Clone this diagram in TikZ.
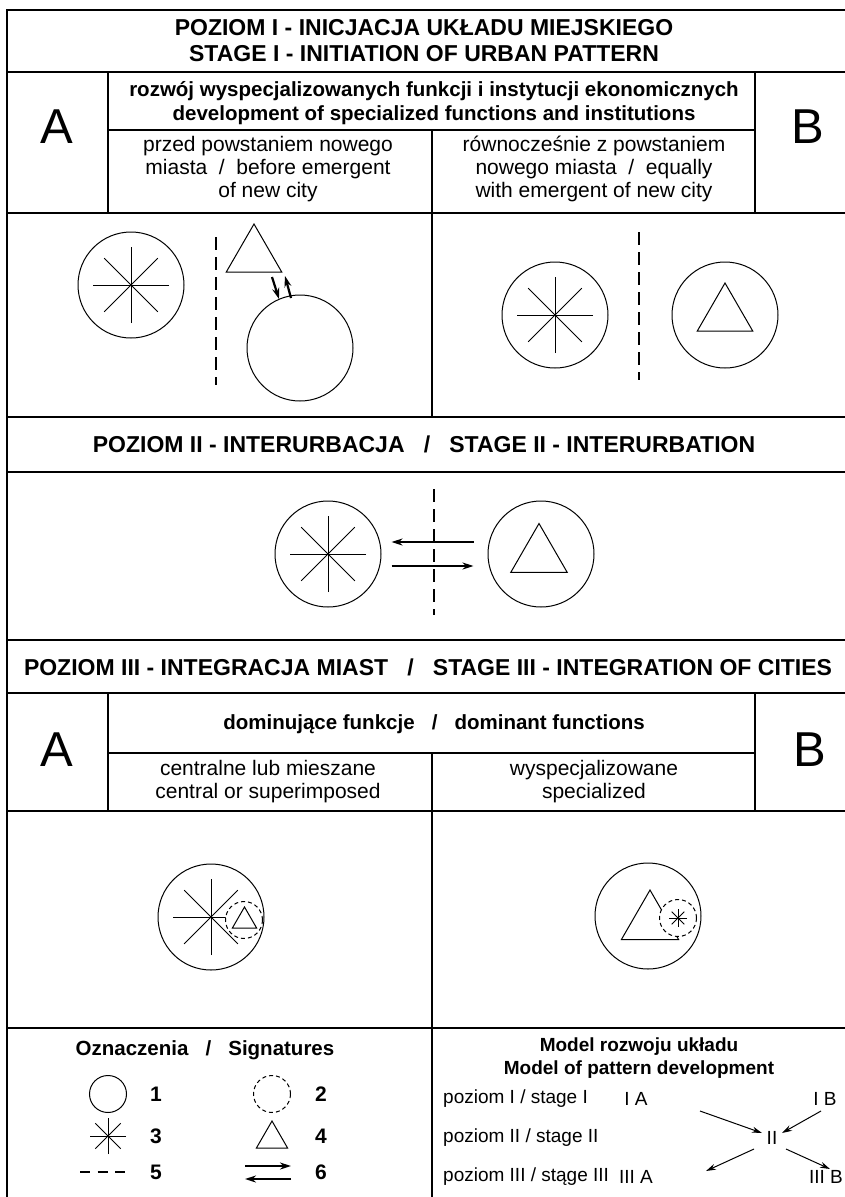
\documentclass[tikz,border=0pt]{standalone}
\usepackage{fontspec}
\setmainfont{Liberation Sans}
\usetikzlibrary{arrows.meta,shapes.geometric,calc}

% eight spokes of a city centre: node, radius
\newcommand{\spokes}[2]{%
  \foreach \ang in {0,45,90,135}
    \draw[spoke] ($(#1)+(\ang:#2)$) -- ($(#1)+(\ang+180:#2)$);%
}

\begin{document}
\begin{tikzpicture}[x=1pt,y=-1pt,
  rule/.style={line width=2.2pt},
  town/.style={draw,circle,line width=1pt,minimum size=106pt,inner sep=0pt},
  satellite/.style={draw,circle,dash pattern=on 4pt off 3pt,line width=1pt,fill=white,inner sep=0pt,minimum size=37pt},
  func/.style={draw,regular polygon,regular polygon sides=3,line width=1pt,inner sep=0pt,minimum size=64pt},
  spoke/.style={line width=0.9pt},
  divide/.style={line width=2.4pt,dash pattern=on 13pt off 7pt},
  flow/.style={line width=2.4pt,-{Stealth[length=11pt,width=7pt]}},
  trend/.style={line width=1pt,-{Stealth[length=10pt,width=6pt]}},
  head/.style={font=\fontsize{23}{26}\selectfont\bfseries,align=center,inner sep=0pt},
  subhead/.style={font=\fontsize{20.5}{23.5}\selectfont\bfseries,align=center,inner sep=0pt},
  txt/.style={font=\fontsize{21}{23}\selectfont,align=center,inner sep=0pt},
  letter/.style={font=\fontsize{49}{49}\selectfont,inner sep=0pt},
  lbl/.style={font=\fontsize{19}{23}\selectfont,inner sep=0pt},
  num/.style={font=\fontsize{21}{23}\selectfont\bfseries,inner sep=0pt},
]
\useasboundingbox (0,0) rectangle (845,1197);

% table
\draw[rule] (7,1200) -- (7,10) -- (850,10);
\foreach \yy in {72,213,417,472,640,693,811,1028}
  \draw[rule] (7,\yy) -- (850,\yy);
\draw[rule] (108,130) -- (755,130) (108,753) -- (755,753);
\draw[rule] (108,72) -- (108,213) (755,72) -- (755,213);
\draw[rule] (108,693) -- (108,811) (755,693) -- (755,811);
\draw[rule] (432,130) -- (432,417) (432,753) -- (432,1200);

% stage I
\node[head] (poz1) at (424,41) {POZIOM I - INICJACJA UKŁADU MIEJSKIEGO\\STAGE I - INITIATION OF URBAN PATTERN};
\node[subhead] (dev) at (434,103) {rozwój wyspecjalizowanych funkcji i instytucji ekonomicznych\\development of specialized functions and institutions};
\node[letter] (A1) at (57,127) {A};
\node[letter] (B1) at (808,127) {B};
\node[txt] (pre) at (268,169) {przed powstaniem nowego\\miasta\ \ /\ \ before emergent\\of new city};
\node[txt] (eq) at (594,169) {równocześnie z powstaniem\\nowego miasta\ \ /\ \ equally\\with emergent of new city};

\node[town] (c1a) at (131,285) {};
\spokes{c1a}{38}
\draw[divide] (216,237) -- (216,385);
\node[func] (t1a) at (254,256) {};
\node[town] (c1b) at (300,348) {};
\coordinate (d1) at (272,277);
\coordinate (d2) at (279,299);
\coordinate (u1) at (291,298);
\coordinate (u2) at (285,276);
\draw[flow,line width=2.2pt] (d1) -- (d2);
\draw[flow,line width=2.2pt] (u1) -- (u2);

\node[town] (c1c) at (555,315) {};
\spokes{c1c}{38}
\draw[divide] (639,232) -- (639,380);
\node[town] (c1d) at (725,315) {};
\node[func] (t1d) at (c1d) {};

% stage II
\node[head] (poz2) at (424,444) {POZIOM II - INTERURBACJA\ \ \ /\ \ \ STAGE II - INTERURBATION};
\node[town] (c2a) at (328,554) {};
\spokes{c2a}{38}
\node[town] (c2b) at (541,554) {};
\node[func,minimum size=65pt] (t2b) at (539,556) {};
\draw[divide] (434,489) -- (434,615);
\draw[flow] ($(c2b.west)+(-14,-12)$) -- ($(c2a.east)+(10,-12)$);
\draw[flow] ($(c2a.east)+(10,12)$) -- ($(c2b.west)+(-14,12)$);

% stage III
\node[head] (poz3) at (428,667) {POZIOM III - INTEGRACJA MIAST\ \ \ /\ \ \ STAGE III - INTEGRATION OF CITIES};
\node[subhead] (dom) at (434,724) {dominujące funkcje\ \ \ /\ \ \ dominant functions};
\node[letter] (A3) at (57,750) {A};
\node[letter] (B3) at (810,750) {B};
\node[txt] (cen) at (268,782) {centralne lub mieszane\\central or superimposed};
\node[txt] (spe) at (594,782) {wyspecjalizowane\\specialized};

\node[town] (c3a) at (211,917) {};
\spokes{c3a}{38}
\node[satellite] (d3a) at (244,920) {};
\node[func,minimum size=28pt] (t3a) at (244.5,921) {};
\node[town] (c3b) at (648,916) {};
\node[func,minimum size=66pt] (t3b) at (650,923) {};
\node[satellite] (d3b) at (678,918) {};
\spokes{d3b}{9}

% legend
\node[subhead] (sig) at (205,1050) {Oznaczenia\ \ \ /\ \ \ Signatures};
\node[town,minimum size=37pt] (k1) at (108,1094) {};
\node[num] at (156,1094) {1};
\node[satellite] (k2) at (272,1094) {};
\node[num] at (321,1094) {2};
\coordinate (k3) at (108,1136);
\spokes{k3}{18}
\node[num] at (156,1136) {3};
\node[func,minimum size=36pt] (k4) at (272,1139) {};
\node[num] at (321,1136) {4};
\coordinate (k5a) at (80,1172);
\coordinate (k5b) at (125,1172);
\draw[divide,line width=2pt,dash pattern=on 10pt off 7.5pt] (k5a) -- (k5b);
\node[num] at (156,1172) {5};
\coordinate (k6a) at (245,1166);
\coordinate (k6b) at (291,1166);
\coordinate (k6c) at (245,1179);
\coordinate (k6d) at (291,1179);
\draw[flow,line width=2pt] (k6a) -- (k6b);
\draw[flow,line width=2pt] (k6d) -- (k6c);
\node[num] at (321,1172) {6};

% model
\node[subhead,font=\fontsize{19}{23}\selectfont\bfseries] (mod) at (639,1058) {Model rozwoju układu\\Model of pattern development};
\node[lbl,anchor=west] (p1) at (443,1099) {poziom I / stage I};
\node[lbl,anchor=west] (p2) at (443,1138) {poziom II / stage II};
\node[lbl,anchor=west] (p3) at (443,1177) {poziom III / stąge III};
\node[lbl] (IA) at (636,1099) {I A};
\node[lbl] (IB) at (825,1099) {I B};
\node[lbl] (II) at (772,1138) {II};
\node[lbl] (IIIA) at (636,1177) {III A};
\node[lbl] (IIIB) at (826,1177) {III B};
\draw[trend] ($(IA)+(64,12)$) -- ($(II)+(-10,-5)$);
\draw[trend] ($(IB)+(-4,12)$) -- ($(II)+(10,-5)$);
\draw[trend] ($(II)+(-18,11)$) -- ($(IIIA)+(70,-6)$);
\draw[trend] ($(II)+(14,11)$) -- ($(IIIB)+(4,-8)$);
\end{tikzpicture}
\end{document}
